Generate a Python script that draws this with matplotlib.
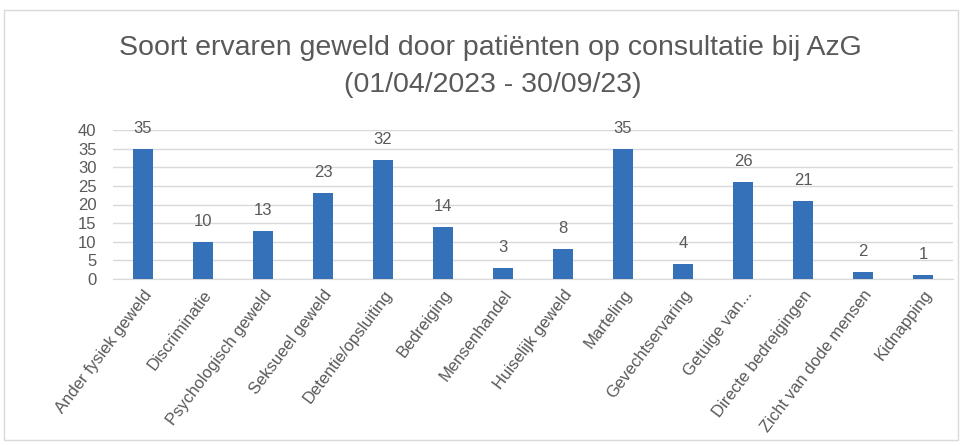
import matplotlib.pyplot as plt
from matplotlib.patches import Rectangle

categories = ["Ander fysiek geweld", "Discriminatie", "Psychologisch geweld", "Seksueel geweld",
              "Detentie/opsluiting", "Bedreiging", "Mensenhandel", "Huiselijk geweld", "Marteling",
              "Gevechtservaring", "Getuige van...", "Directe bedreigingen", "Zicht van dode mensen",
              "Kidnapping"]
values = [35, 10, 13, 23, 32, 14, 3, 8, 35, 4, 26, 21, 2, 1]
yticks = [0, 5, 10, 15, 20, 25, 30, 35, 40]

plt.rcParams['font.family'] = ['Liberation Sans', 'DejaVu Sans']
grey = '#595959'

fig = plt.figure(figsize=(9.64, 4.46), dpi=100)
fig.patches.append(Rectangle((4 / 964, 6 / 446), 954 / 964, 430 / 446, transform=fig.transFigure,
                             fill=False, edgecolor='#d9d9d9', linewidth=1))
ax = fig.add_axes([113 / 964, 167 / 446, 840 / 964, 149 / 446])

x = range(len(categories))
bars = ax.bar(x, values, width=0.34, color='#3571b9', zorder=3)
for xi, v in zip(x, values):
    ax.text(xi, v + 5.5, str(v), ha='center', va='center', fontsize=12, color=grey)

ax.set_xlim(-0.5, len(categories) - 0.5)
ax.set_ylim(0, 40)
ax.set_yticks(yticks)
ax.tick_params(axis='y', length=0, labelsize=12, labelcolor=grey, pad=12)
ax.tick_params(axis='x', length=0, labelsize=12, labelcolor=grey, pad=6)
ax.set_xticks(list(x))
ax.set_xticklabels(categories, rotation=53, ha='right', rotation_mode='anchor')
ax.grid(axis='y', color='#d9d9d9', linewidth=1, zorder=0)
for s in ['top', 'right', 'left']:
    ax.spines[s].set_visible(False)
ax.spines['bottom'].set_color('#d9d9d9')

fig.text(490 / 964, 1 - 48 / 446, "Soort ervaren geweld door patiënten op consultatie bij AzG",
         ha='center', va='center', fontsize=20.5, color=grey)
fig.text(493 / 964, 1 - 85 / 446, "(01/04/2023 - 30/09/23)",
         ha='center', va='center', fontsize=20.5, color=grey)

fig.savefig("out.png", dpi=100)
